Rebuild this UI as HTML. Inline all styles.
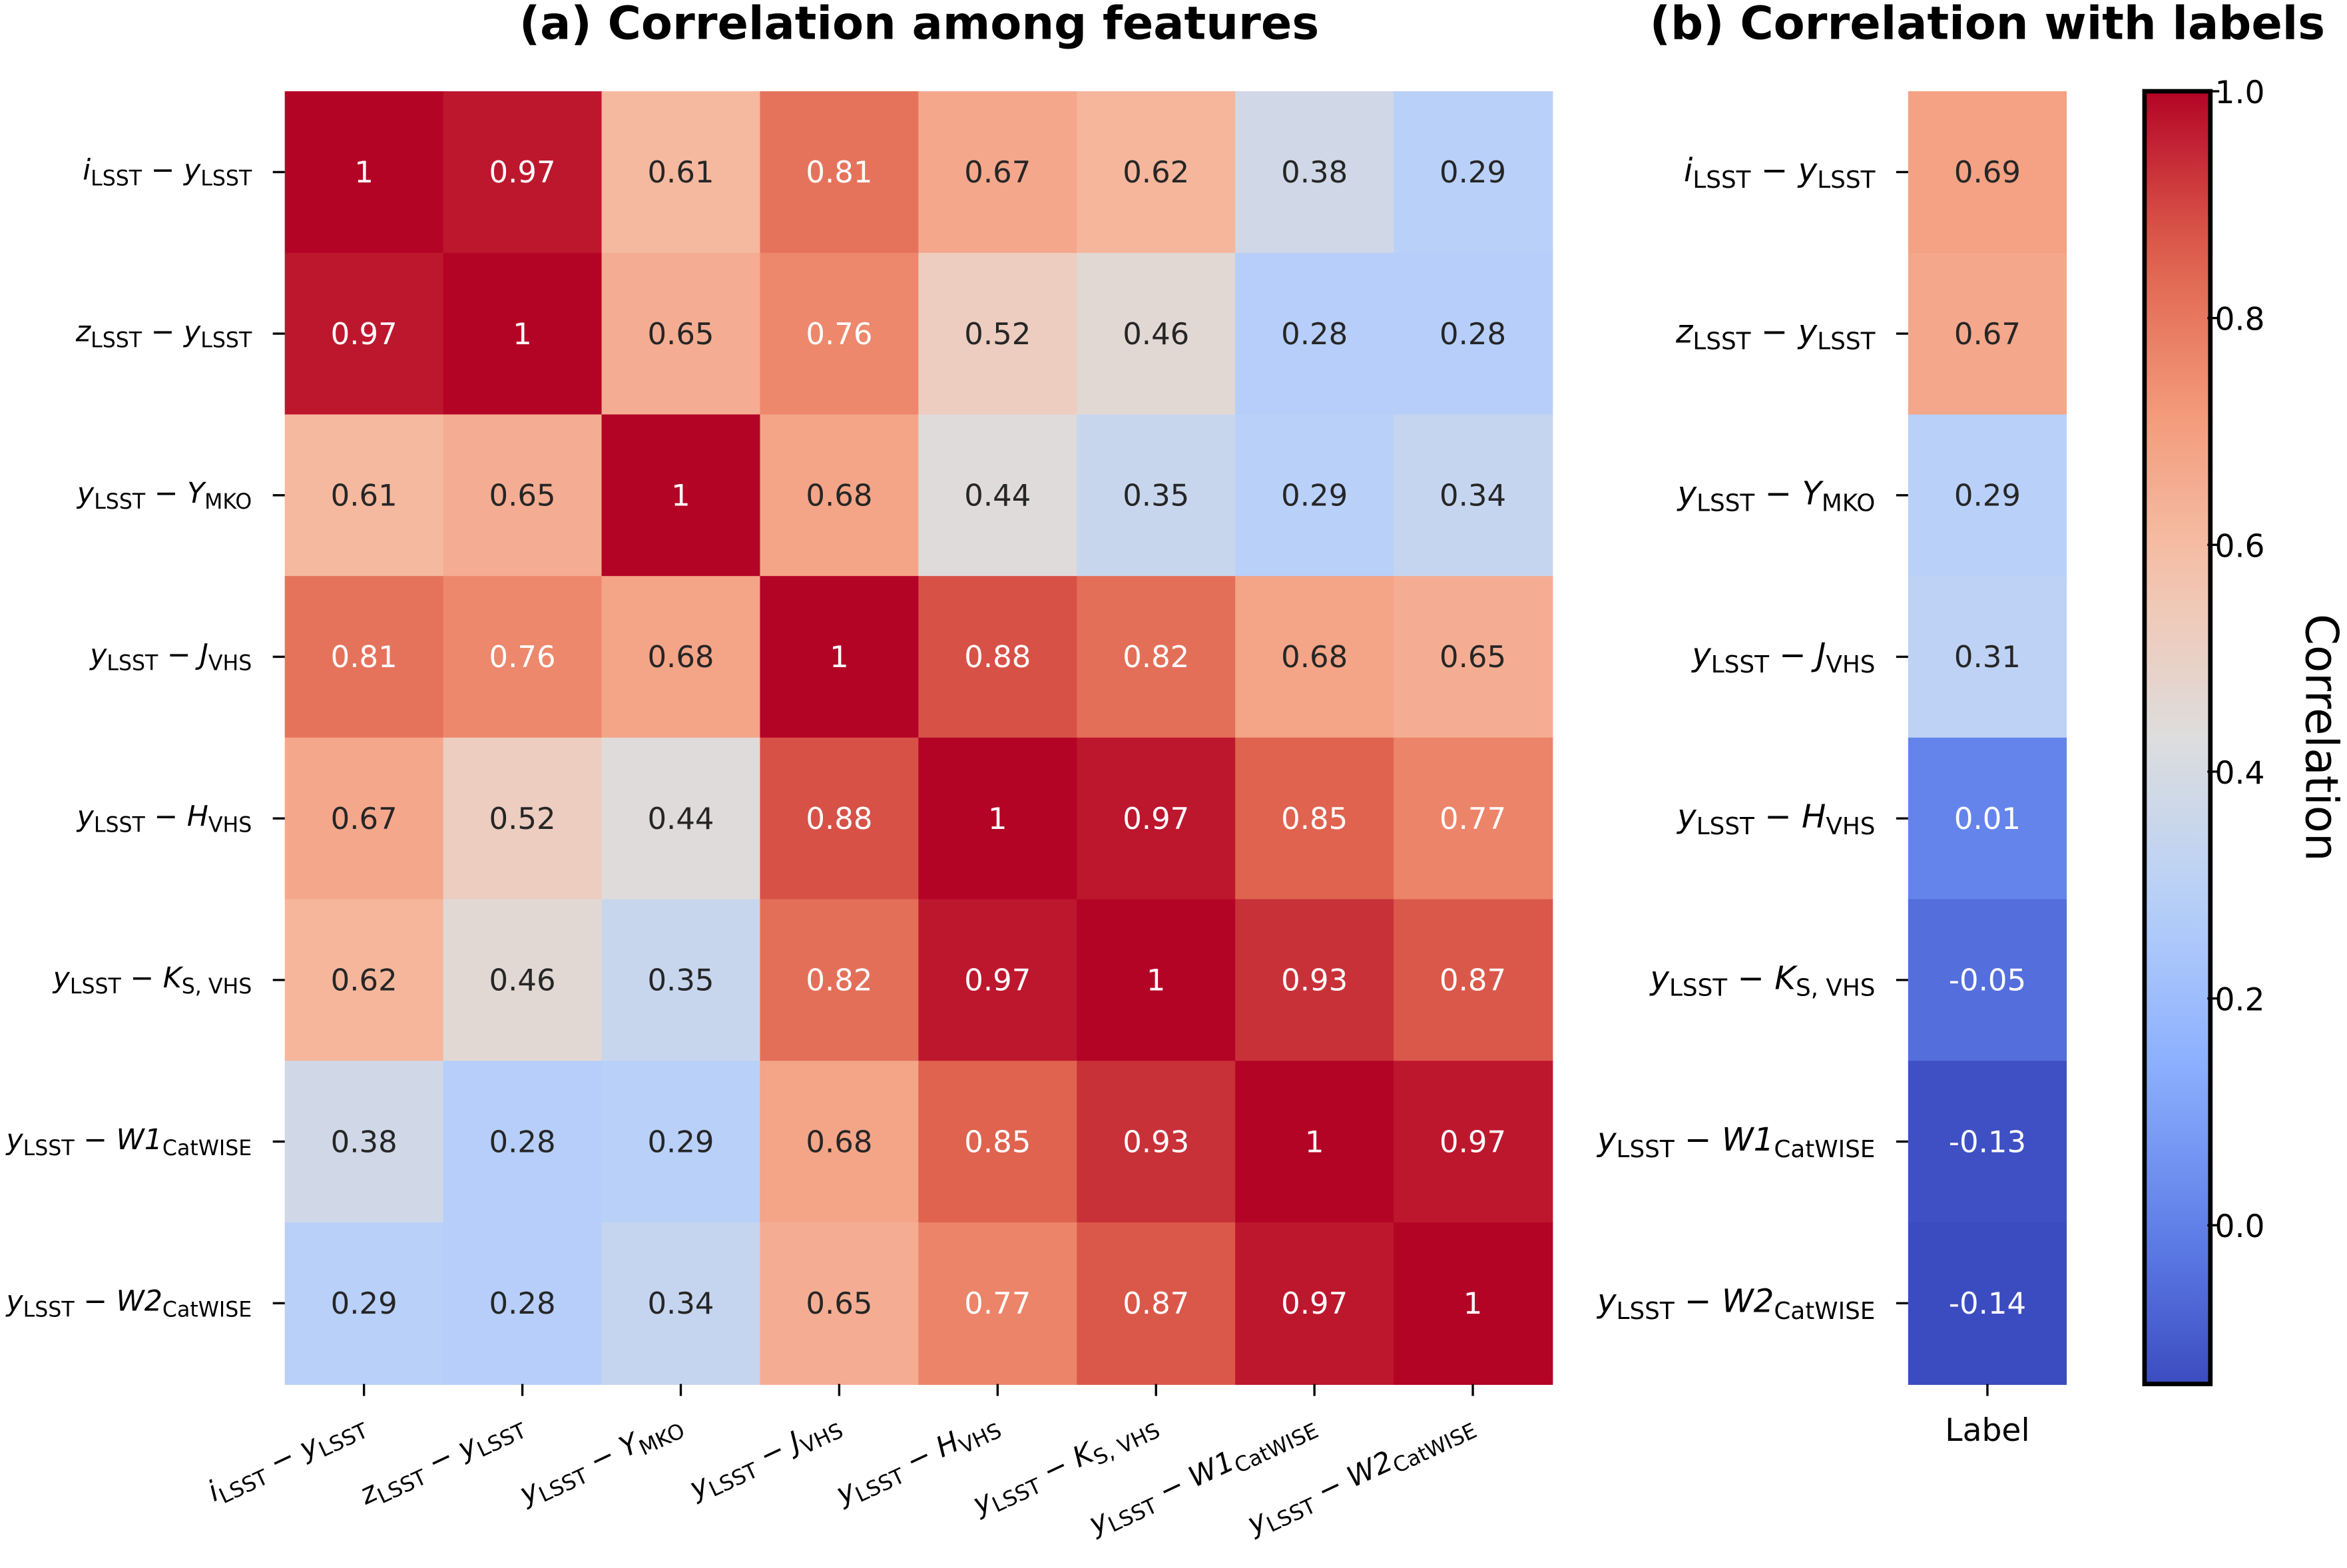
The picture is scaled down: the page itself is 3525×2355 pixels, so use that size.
<!DOCTYPE html>
<html><head><meta charset="utf-8">
<style>
html,body{margin:0;padding:0;background:#fff;}
svg{display:block;font-family:"DejaVu Sans","Liberation Sans",sans-serif;}
</style></head>
<body>
<svg id="chart" width="3525" height="2355" viewBox="0 0 1568 1048" xmlns="http://www.w3.org/2000/svg">
<rect width="1568" height="1048" fill="#fff"/>
<text x="614" y="26" text-anchor="middle" font-size="30.5" font-weight="bold">(a) Correlation among features</text>
<text x="1328" y="26" text-anchor="middle" font-size="30.5" font-weight="bold">(b) Correlation with labels</text>
<g id="heatA"></g>
<g id="heatB"></g>
<g id="axes"></g>
<defs><linearGradient id="cbgrad" x1="0" y1="1" x2="0" y2="0"></linearGradient></defs>
<g id="cbar"></g>
</svg>
<script>
const featureLabels = [
  ["i","LSST","y","LSST"],["z","LSST","y","LSST"],["y","LSST","Y","MKO"],["y","LSST","J","VHS"],
  ["y","LSST","H","VHS"],["y","LSST","K","S, VHS"],["y","LSST","W1","CatWISE"],["y","LSST","W2","CatWISE"]
];
const corrMatrix = [
  [1,0.97,0.61,0.81,0.67,0.62,0.38,0.29],
  [0.97,1,0.65,0.76,0.52,0.46,0.28,0.28],
  [0.61,0.65,1,0.68,0.44,0.35,0.29,0.34],
  [0.81,0.76,0.68,1,0.88,0.82,0.68,0.65],
  [0.67,0.52,0.44,0.88,1,0.97,0.85,0.77],
  [0.62,0.46,0.35,0.82,0.97,1,0.93,0.87],
  [0.38,0.28,0.29,0.68,0.85,0.93,1,0.97],
  [0.29,0.28,0.34,0.65,0.77,0.87,0.97,1]
];
const labelCorr = [0.69,0.67,0.29,0.31,0.01,-0.05,-0.13,-0.14];
const colorTicks = [0.0,0.2,0.4,0.6,0.8,1.0];
const vmin = -0.14, vmax = 1.0;

const NS="http://www.w3.org/2000/svg";
const stops=[[59,76,192],[98,130,234],[141,176,254],[184,208,249],[221,221,221],[245,196,173],[244,154,123],[222,96,77],[180,4,38]];
function cmap(v){let t=(v-vmin)/(vmax-vmin);t=Math.max(0,Math.min(1,t));const p=t*8,i=Math.min(7,Math.floor(p)),f=p-i;
 const c=stops[i].map((a,k)=>Math.round(a+(stops[i+1][k]-a)*f));return c;}
function lum(c){const l=c.map(x=>{x/=255;return x<=0.03928?x/12.92:Math.pow((x+0.055)/1.055,2.4)});return 0.2126*l[0]+0.7152*l[1]+0.0722*l[2];}
function el(tag,attrs,parent){const e=document.createElementNS(NS,tag);for(const k in attrs)e.setAttribute(k,attrs[k]);parent.appendChild(e);return e;}
const x0=190,y0=61,cw=(1037-190)/8,ch=(925-61)/8;
const xScale=j=>x0+j*cw, yScale=i=>y0+i*ch;
const bx0=1275,bw=106;
const A=document.getElementById('heatA'),B=document.getElementById('heatB'),AX=document.getElementById('axes'),CB=document.getElementById('cbar');

function fmt(v){return String(v);}
corrMatrix.forEach((row,i)=>row.forEach((v,j)=>{
  const c=cmap(v);
  const r=el('rect',{x:xScale(j),y:yScale(i),width:cw+0.6,height:ch+0.6,fill:`rgb(${c})`},A);
  
  
  const t=el('text',{x:xScale(j)+cw/2,y:yScale(i)+ch/2+7,'text-anchor':'middle','font-size':20,fill:lum(c)<0.408?'#fff':'#262626'},A);
  
  
  t.textContent=fmt(v);
}));
labelCorr.forEach((v,i)=>{
  const c=cmap(v);
  const r=el('rect',{x:bx0,y:yScale(i),width:bw,height:ch+0.6,fill:`rgb(${c})`},B);
  
  
  const t=el('text',{x:bx0+bw/2,y:yScale(i)+ch/2+7,'text-anchor':'middle','font-size':20,fill:lum(c)<0.408?'#fff':'#262626'},B);
  
  
  t.textContent=fmt(v);
});

function label(parent,L,x,y,anchor,rot,fs){
  fs=fs||19;
  const t=el('text',{x:x,y:y,'text-anchor':anchor,'font-size':fs,fill:'#000'},parent);
  if(rot)t.setAttribute('transform',`rotate(${rot} ${x} ${y})`);
  const add=(txt,opts)=>{const s=el('tspan',opts,t);s.textContent=txt;return s;};
  const sub=fs*0.74, d=fs*0.21;
  add(L[0],{'font-style':'italic'});
  add(L[1],{'font-size':sub,dy:d});
  add(' − ',{dy:-d});
  add(L[2],{'font-style':'italic'});
  add(L[3],{'font-size':sub,dy:d});
  return t;
}
featureLabels.forEach((L,i)=>{
  const yc=yScale(i)+ch/2;
  let tk=el('line',{x1:x0-8,x2:x0,y1:yc,y2:yc,stroke:'#000','stroke-width':1.5},AX);
  
  let t=label(AX,L,168,yc+5,'end',0,19);
  
  tk=el('line',{x1:bx0-8,x2:bx0,y1:yc,y2:yc,stroke:'#000','stroke-width':1.5},AX);
  
  t=label(AX,L,1253,yc+6,'end',0,21.5);
  
  const xc=xScale(i)+cw/2;
  tk=el('line',{x1:xc,x2:xc,y1:925,y2:933,stroke:'#000','stroke-width':1.5},AX);
  
  t=label(AX,L,xc+2,956,'end',-25,19);
  
});
let tkb=el('line',{x1:bx0+bw/2,x2:bx0+bw/2,y1:925,y2:933,stroke:'#000','stroke-width':1.5},AX);

let lb=el('text',{x:bx0+bw/2,y:963,'text-anchor':'middle','font-size':21},AX);

lb.textContent='Label';

const g=document.getElementById('cbgrad');
for(let k=0;k<=20;k++){const v=vmin+(vmax-vmin)*k/20;el('stop',{offset:(k/20),'stop-color':`rgb(${cmap(v)})`},g);}
const cbx=1433,cbw=44,cbt=61,cbb=925;
const cy=v=>cbb-(v-vmin)/(vmax-vmin)*(cbb-cbt);
const cr=el('rect',{x:cbx,y:cbt,width:cbw,height:cbb-cbt,fill:'url(#cbgrad)',stroke:'#000','stroke-width':3},CB);

colorTicks.forEach(v=>{
  const y=cy(v);
  const l=el('line',{x1:cbx+cbw-2,x2:cbx+cbw+6,y1:y,y2:y,stroke:'#000','stroke-width':1.5},CB);
  
  const t=el('text',{x:cbx+cbw+3,y:y+8,'font-size':21},CB);
  
  t.textContent=v.toFixed(1);
});
const ct=el('text',{x:1541,y:493,'text-anchor':'middle','font-size':30,transform:'rotate(90 1541 493)'},CB);

ct.textContent='Correlation';
</script>
</body></html>
